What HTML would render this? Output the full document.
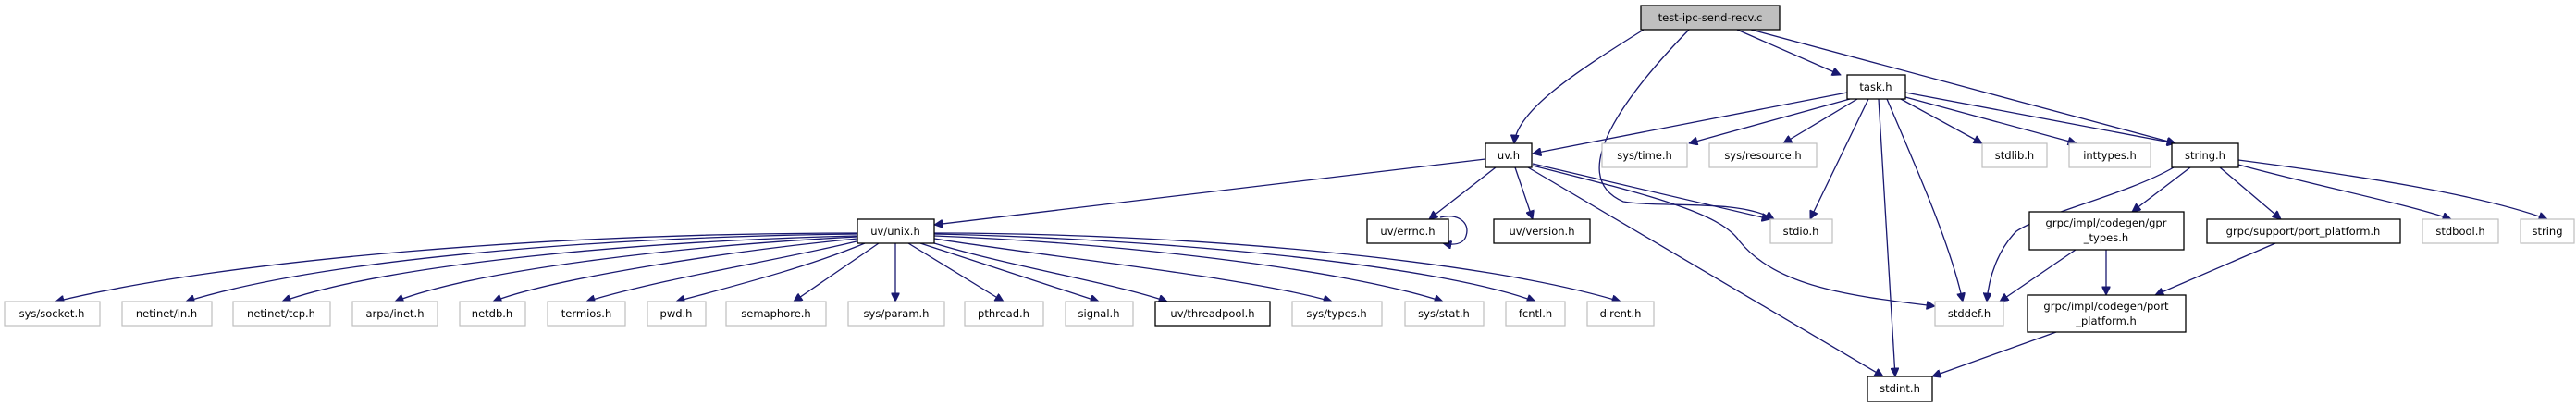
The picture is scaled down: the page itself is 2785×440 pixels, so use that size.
<!DOCTYPE html>
<html><head><meta charset="utf-8"><style>
html,body{margin:0;padding:0;background:#fff;}
svg{display:block}
text{font-family:"DejaVu Sans","Liberation Sans",sans-serif;font-size:11.5px;fill:#000;text-anchor:middle}
.e{fill:none;stroke:#191970;stroke-width:1.3}
.g{fill:#fff;stroke:#bfbfbf;stroke-width:1.2}
.b{fill:#fff;stroke:#000;stroke-width:1.3}
</style></head><body>
<svg width="2785" height="440" viewBox="0 0 2785 440" xmlns="http://www.w3.org/2000/svg">
<defs><marker id="a" viewBox="0 0 10 10" refX="10" refY="5" markerWidth="10" markerHeight="9" markerUnits="userSpaceOnUse" orient="auto"><path d="M0,0 L10,5 L0,10 z" fill="#191970" stroke="#191970"/></marker></defs>
<g class="e" marker-end="url(#a)">
<!-- test -> -->
<path d="M1777,32 C1700,80 1640,120 1637,155"/>
<path d="M1826,32 C1760,100 1690,190 1755,218 C1800,225 1880,215 1918,237"/>
<path d="M1878,32 L1990,81"/>
<path d="M1893,32 L2352,155"/>
<!-- task -> -->
<path d="M1997,100 L1657,166"/>
<path d="M2000,107 L1826,155"/>
<path d="M2008,107 L1928,155"/>
<path d="M2020,107 L1957,237"/>
<path d="M2031,107 L2049,407"/>
<path d="M2040,107 C2080,200 2110,270 2122,326"/>
<path d="M2055,107 L2143,155"/>
<path d="M2060,105 L2245,155"/>
<path d="M2060,100 L2352,155"/>
<!-- uv.h -> -->
<path d="M1606,172 L1010,243"/>
<path d="M1617,181 L1545,237"/>
<path d="M1638,181 L1657,237"/>
<path d="M1657,177 L1914,237"/>
<path d="M1657,179 C1780,210 1860,230 1880,260 C1920,310 2000,320 2092,331"/>
<path d="M1652,181 L2036,407"/>
<path d="M1557,235 C1575,230 1590,240 1585,255 C1582,265 1570,265 1560,263"/>
<!-- string -> -->
<path d="M2350,181 C2300,210 2210,230 2180,250 C2160,270 2150,300 2148,326"/>
<path d="M2368,181 L2305,229"/>
<path d="M2400,181 L2466,237"/>
<path d="M2420,178 C2500,200 2600,220 2650,237"/>
<path d="M2420,173 C2550,190 2680,210 2754,237"/>
<path d="M2244,270 L2162,326"/>
<path d="M2277,270 L2277,319"/>
<path d="M2460,263 L2330,319"/>
<path d="M2223,359 L2089,407"/>
<!-- unix -> -->
<path d="M927,252 C600,252 250,280 60,326"/>
<path d="M927,253 C650,256 350,280 201,326"/>
<path d="M927,255 C700,260 420,285 305,326"/>
<path d="M927,256 C750,265 520,290 427,326"/>
<path d="M927,258 C800,270 600,300 533,326"/>
<path d="M930,260 C850,280 720,300 634,326"/>
<path d="M935,263 C870,290 790,310 731,326"/>
<path d="M950,263 L858,326"/>
<path d="M968,263 L968,326"/>
<path d="M982,263 L1085,326"/>
<path d="M995,263 L1188,326"/>
<path d="M1010,263 C1100,290 1200,305 1262,326"/>
<path d="M1010,258 C1150,280 1350,300 1440,326"/>
<path d="M1010,255 C1200,262 1450,290 1560,326"/>
<path d="M1010,253 C1250,258 1550,285 1660,326"/>
<path d="M1010,252 C1280,252 1600,280 1752,326"/>
</g>
<!-- nodes -->
<rect x="1774" y="6" width="150" height="26" fill="#bfbfbf" stroke="#000" stroke-width="1.3"/><text x="1849" y="23">test-ipc-send-recv.c</text>
<rect class="b" x="1997" y="81" width="63" height="26"/><text x="2028" y="98">task.h</text>
<rect class="b" x="1606" y="155" width="50" height="26"/><text x="1631" y="172">uv.h</text>
<rect class="g" x="1732" y="155" width="92" height="26"/><text x="1778" y="172">sys/time.h</text>
<rect class="g" x="1848" y="155" width="116" height="26"/><text x="1906" y="172">sys/resource.h</text>
<rect class="g" x="2143" y="155" width="70" height="26"/><text x="2178" y="172">stdlib.h</text>
<rect class="g" x="2237" y="155" width="88" height="26"/><text x="2281" y="172">inttypes.h</text>
<rect class="b" x="2348" y="155" width="72" height="26"/><text x="2384" y="172">string.h</text>
<rect class="b" x="927" y="237" width="83" height="26"/><text x="968" y="254">uv/unix.h</text>
<rect class="b" x="1478" y="237" width="88" height="26"/><text x="1522" y="254">uv/errno.h</text>
<rect class="b" x="1615" y="237" width="104" height="26"/><text x="1667" y="254">uv/version.h</text>
<rect class="g" x="1914" y="237" width="67" height="26"/><text x="1947" y="254">stdio.h</text>
<rect class="b" x="2194" y="229" width="167" height="41"/><text x="2277" y="245">grpc/impl/codegen/gpr</text><text x="2277" y="261">_types.h</text>
<rect class="b" x="2386" y="237" width="209" height="26"/><text x="2490" y="254">grpc/support/port_platform.h</text>
<rect class="g" x="2619" y="237" width="82" height="26"/><text x="2660" y="254">stdbool.h</text>
<rect class="g" x="2725" y="237" width="58" height="26"/><text x="2754" y="254">string</text>
<g>
<rect class="g" x="5" y="326" width="103" height="26"/><text x="56" y="343">sys/socket.h</text>
<rect class="g" x="132" y="326" width="97" height="26"/><text x="180" y="343">netinet/in.h</text>
<rect class="g" x="252" y="326" width="105" height="26"/><text x="304" y="343">netinet/tcp.h</text>
<rect class="g" x="381" y="326" width="92" height="26"/><text x="427" y="343">arpa/inet.h</text>
<rect class="g" x="497" y="326" width="71" height="26"/><text x="532" y="343">netdb.h</text>
<rect class="g" x="592" y="326" width="84" height="26"/><text x="634" y="343">termios.h</text>
<rect class="g" x="700" y="326" width="63" height="26"/><text x="731" y="343">pwd.h</text>
<rect class="g" x="785" y="326" width="108" height="26"/><text x="839" y="343">semaphore.h</text>
<rect class="g" x="917" y="326" width="104" height="26"/><text x="969" y="343">sys/param.h</text>
<rect class="g" x="1043" y="326" width="85" height="26"/><text x="1085" y="343">pthread.h</text>
<rect class="g" x="1152" y="326" width="73" height="26"/><text x="1188" y="343">signal.h</text>
<rect class="b" x="1249" y="326" width="124" height="26"/><text x="1311" y="343">uv/threadpool.h</text>
<rect class="g" x="1397" y="326" width="97" height="26"/><text x="1445" y="343">sys/types.h</text>
<rect class="g" x="1519" y="326" width="85" height="26"/><text x="1561" y="343">sys/stat.h</text>
<rect class="g" x="1628" y="326" width="64" height="26"/><text x="1660" y="343">fcntl.h</text>
<rect class="g" x="1716" y="326" width="72" height="26"/><text x="1752" y="343">dirent.h</text>
<rect class="g" x="2092" y="326" width="74" height="26"/><text x="2129" y="343">stddef.h</text>
</g>
<rect class="b" x="2192" y="319" width="171" height="40"/><text x="2277" y="335">grpc/impl/codegen/port</text><text x="2277" y="351">_platform.h</text>
<rect class="b" x="2019" y="407" width="70" height="27"/><text x="2054" y="424">stdint.h</text>
</svg>
</body></html>
